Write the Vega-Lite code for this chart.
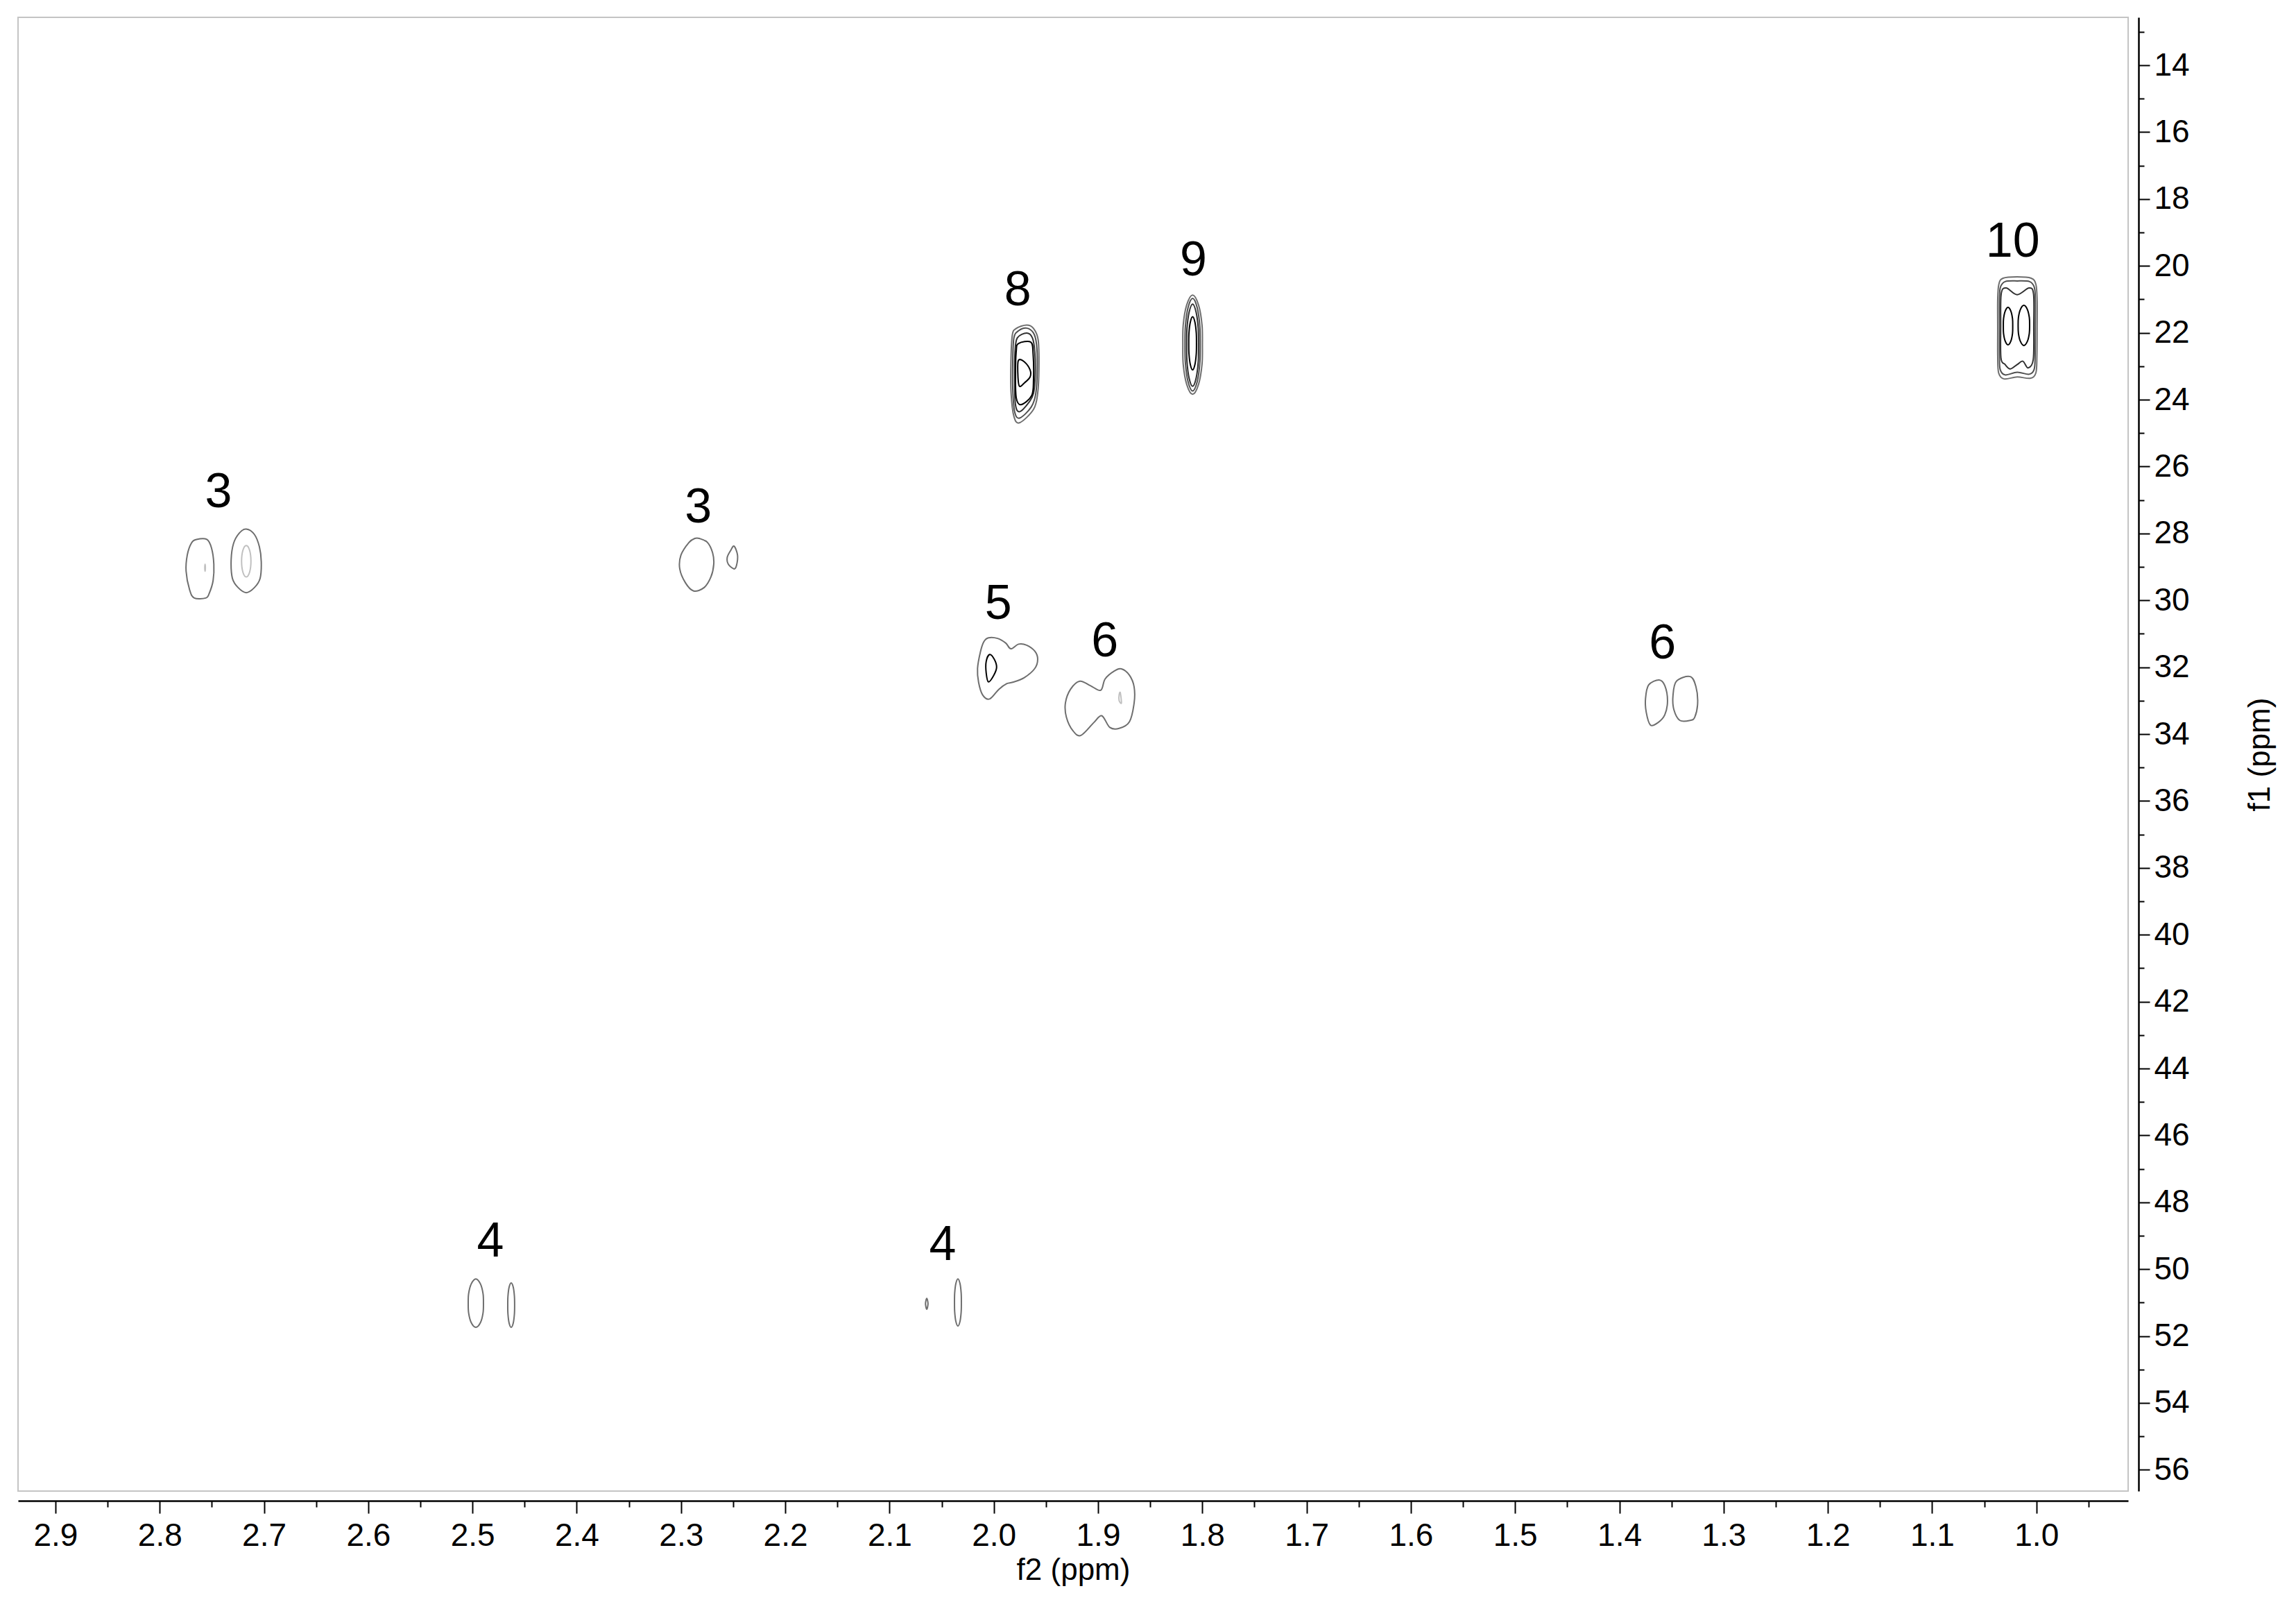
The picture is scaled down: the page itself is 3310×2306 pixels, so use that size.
{
"$schema": "https://vega.github.io/schema/vega-lite/v6.json",
"width": 3042, "height": 2124,
"autosize": {"type": "none"},
"padding": {"left": 26, "top": 25, "right": 242, "bottom": 157},
"background": "white",
"config": {"view": {"stroke": "#c4c4c4", "strokeWidth": 2}},
"datasets": {
"contours": [
{"c":"3a","i":1,"f2":2.7647,"f1":28.18,"lv":"g1"},{"c":"3a","i":2,"f2":2.7548,"f1":28.18,"lv":"g1"},{"c":"3a","i":3,"f2":2.7503,"f1":28.44,"lv":"g1"},{"c":"3a","i":4,"f2":2.7481,"f1":28.92,"lv":"g1"},{"c":"3a","i":5,"f2":2.7488,"f1":29.41,"lv":"g1"},{"c":"3a","i":6,"f2":2.7525,"f1":29.79,"lv":"g1"},{"c":"3a","i":7,"f2":2.7558,"f1":29.93,"lv":"g1"},{"c":"3a","i":8,"f2":2.7669,"f1":29.93,"lv":"g1"},{"c":"3a","i":9,"f2":2.7714,"f1":29.68,"lv":"g1"},{"c":"3a","i":10,"f2":2.7747,"f1":29.13,"lv":"g1"},{"c":"3a","i":11,"f2":2.7736,"f1":28.65,"lv":"g1"},{"c":"3a","i":12,"f2":2.7696,"f1":28.29,"lv":"g1"},
{"c":"3a2","i":1,"f2":2.7565,"f1":28.92,"lv":"lt"},{"c":"3a2","i":2,"f2":2.7562,"f1":29.02,"lv":"lt"},{"c":"3a2","i":3,"f2":2.7565,"f1":29.13,"lv":"lt"},{"c":"3a2","i":4,"f2":2.7568,"f1":29.02,"lv":"lt"},
{"c":"3b","i":1,"f2":2.7170,"f1":27.87,"lv":"g1"},{"c":"3b","i":2,"f2":2.7092,"f1":28.03,"lv":"g1"},{"c":"3b","i":3,"f2":2.7044,"f1":28.40,"lv":"g1"},{"c":"3b","i":4,"f2":2.7026,"f1":28.85,"lv":"g1"},{"c":"3b","i":5,"f2":2.7037,"f1":29.34,"lv":"g1"},{"c":"3b","i":6,"f2":2.7092,"f1":29.62,"lv":"g1"},{"c":"3b","i":7,"f2":2.7170,"f1":29.77,"lv":"g1"},{"c":"3b","i":8,"f2":2.7248,"f1":29.62,"lv":"g1"},{"c":"3b","i":9,"f2":2.7303,"f1":29.34,"lv":"g1"},{"c":"3b","i":10,"f2":2.7315,"f1":28.79,"lv":"g1"},{"c":"3b","i":11,"f2":2.7292,"f1":28.30,"lv":"g1"},{"c":"3b","i":12,"f2":2.7237,"f1":27.99,"lv":"g1"},
{"c":"3b2","i":1,"f2":2.7170,"f1":28.36,"lv":"lt"},{"c":"3b2","i":2,"f2":2.7138,"f1":28.50,"lv":"lt"},{"c":"3b2","i":3,"f2":2.7125,"f1":28.83,"lv":"lt"},{"c":"3b2","i":4,"f2":2.7138,"f1":29.16,"lv":"lt"},{"c":"3b2","i":5,"f2":2.7170,"f1":29.30,"lv":"lt"},{"c":"3b2","i":6,"f2":2.7202,"f1":29.16,"lv":"lt"},{"c":"3b2","i":7,"f2":2.7215,"f1":28.83,"lv":"lt"},{"c":"3b2","i":8,"f2":2.7202,"f1":28.50,"lv":"lt"},
{"c":"3c","i":1,"f2":2.2824,"f1":28.15,"lv":"g1"},{"c":"3c","i":2,"f2":2.2746,"f1":28.27,"lv":"g1"},{"c":"3c","i":3,"f2":2.2697,"f1":28.58,"lv":"g1"},{"c":"3c","i":4,"f2":2.2686,"f1":28.92,"lv":"g1"},{"c":"3c","i":5,"f2":2.2713,"f1":29.30,"lv":"g1"},{"c":"3c","i":6,"f2":2.2779,"f1":29.62,"lv":"g1"},{"c":"3c","i":7,"f2":2.2879,"f1":29.72,"lv":"g1"},{"c":"3c","i":8,"f2":2.2957,"f1":29.48,"lv":"g1"},{"c":"3c","i":9,"f2":2.3012,"f1":29.06,"lv":"g1"},{"c":"3c","i":10,"f2":2.3001,"f1":28.65,"lv":"g1"},{"c":"3c","i":11,"f2":2.2924,"f1":28.27,"lv":"g1"},{"c":"3c","i":12,"f2":2.2868,"f1":28.15,"lv":"g1"},
{"c":"3d","i":1,"f2":2.2491,"f1":28.38,"lv":"g1"},{"c":"3d","i":2,"f2":2.2458,"f1":28.65,"lv":"g1"},{"c":"3d","i":3,"f2":2.2468,"f1":28.96,"lv":"g1"},{"c":"3d","i":4,"f2":2.2491,"f1":29.06,"lv":"g1"},{"c":"3d","i":5,"f2":2.2546,"f1":28.92,"lv":"g1"},{"c":"3d","i":6,"f2":2.2557,"f1":28.72,"lv":"g1"},{"c":"3d","i":7,"f2":2.2524,"f1":28.51,"lv":"g1"},
{"c":"8a","i":1,"f2":1.9685,"f1":21.77,"lv":"g1"},{"c":"8a","i":2,"f2":1.9619,"f1":21.87,"lv":"g1"},{"c":"8a","i":3,"f2":1.9574,"f1":22.22,"lv":"g1"},{"c":"8a","i":4,"f2":1.9567,"f1":23.05,"lv":"g1"},{"c":"8a","i":5,"f2":1.9579,"f1":23.81,"lv":"g1"},{"c":"8a","i":6,"f2":1.9619,"f1":24.29,"lv":"g1"},{"c":"8a","i":7,"f2":1.9752,"f1":24.69,"lv":"g1"},{"c":"8a","i":8,"f2":1.9807,"f1":24.50,"lv":"g1"},{"c":"8a","i":9,"f2":1.9834,"f1":23.81,"lv":"g1"},{"c":"8a","i":10,"f2":1.9836,"f1":22.91,"lv":"g1"},{"c":"8a","i":11,"f2":1.9823,"f1":22.08,"lv":"g1"},{"c":"8a","i":12,"f2":1.9785,"f1":21.87,"lv":"g1"},
{"c":"8b","i":1,"f2":1.9685,"f1":21.86,"lv":"g2"},{"c":"8b","i":2,"f2":1.9619,"f1":22.01,"lv":"g2"},{"c":"8b","i":3,"f2":1.9590,"f1":22.35,"lv":"g2"},{"c":"8b","i":4,"f2":1.9583,"f1":23.05,"lv":"g2"},{"c":"8b","i":5,"f2":1.9597,"f1":23.81,"lv":"g2"},{"c":"8b","i":6,"f2":1.9641,"f1":24.22,"lv":"g2"},{"c":"8b","i":7,"f2":1.9752,"f1":24.55,"lv":"g2"},{"c":"8b","i":8,"f2":1.9800,"f1":24.36,"lv":"g2"},{"c":"8b","i":9,"f2":1.9818,"f1":23.67,"lv":"g2"},{"c":"8b","i":10,"f2":1.9818,"f1":22.84,"lv":"g2"},{"c":"8b","i":11,"f2":1.9807,"f1":22.15,"lv":"g2"},{"c":"8b","i":12,"f2":1.9763,"f1":21.94,"lv":"g2"},
{"c":"8c","i":1,"f2":1.9685,"f1":22.01,"lv":"g3"},{"c":"8c","i":2,"f2":1.9630,"f1":22.15,"lv":"g3"},{"c":"8c","i":3,"f2":1.9607,"f1":22.56,"lv":"g3"},{"c":"8c","i":4,"f2":1.9603,"f1":23.25,"lv":"g3"},{"c":"8c","i":5,"f2":1.9619,"f1":23.81,"lv":"g3"},{"c":"8c","i":6,"f2":1.9663,"f1":24.08,"lv":"g3"},{"c":"8c","i":7,"f2":1.9752,"f1":24.36,"lv":"g3"},{"c":"8c","i":8,"f2":1.9792,"f1":24.15,"lv":"g3"},{"c":"8c","i":9,"f2":1.9800,"f1":23.39,"lv":"g3"},{"c":"8c","i":10,"f2":1.9796,"f1":22.56,"lv":"g3"},{"c":"8c","i":11,"f2":1.9774,"f1":22.15,"lv":"g3"},
{"c":"8d","i":1,"f2":1.9763,"f1":22.32,"lv":"k"},{"c":"8d","i":2,"f2":1.9645,"f1":22.28,"lv":"k"},{"c":"8d","i":3,"f2":1.9623,"f1":22.63,"lv":"k"},{"c":"8d","i":4,"f2":1.9619,"f1":23.39,"lv":"k"},{"c":"8d","i":5,"f2":1.9637,"f1":23.88,"lv":"k"},{"c":"8d","i":6,"f2":1.9741,"f1":24.15,"lv":"k"},{"c":"8d","i":7,"f2":1.9785,"f1":23.94,"lv":"k"},{"c":"8d","i":8,"f2":1.9792,"f1":23.25,"lv":"k"},{"c":"8d","i":9,"f2":1.9785,"f1":22.56,"lv":"k"},
{"c":"8e","i":1,"f2":1.9763,"f1":22.82,"lv":"k"},{"c":"8e","i":2,"f2":1.9707,"f1":22.87,"lv":"k"},{"c":"8e","i":3,"f2":1.9652,"f1":23.11,"lv":"k"},{"c":"8e","i":4,"f2":1.9652,"f1":23.32,"lv":"k"},{"c":"8e","i":5,"f2":1.9707,"f1":23.50,"lv":"k"},{"c":"8e","i":6,"f2":1.9756,"f1":23.59,"lv":"k"},{"c":"8e","i":7,"f2":1.9770,"f1":23.18,"lv":"k"},
{"c":"9a","i":1,"f2":1.8093,"f1":20.87,"lv":"g1"},{"c":"9a","i":2,"f2":1.8036,"f1":21.17,"lv":"g1"},{"c":"9a","i":3,"f2":1.8003,"f1":21.76,"lv":"g1"},{"c":"9a","i":4,"f2":1.7999,"f1":22.36,"lv":"g1"},{"c":"9a","i":5,"f2":1.8003,"f1":22.95,"lv":"g1"},{"c":"9a","i":6,"f2":1.8036,"f1":23.54,"lv":"g1"},{"c":"9a","i":7,"f2":1.8093,"f1":23.84,"lv":"g1"},{"c":"9a","i":8,"f2":1.8150,"f1":23.54,"lv":"g1"},{"c":"9a","i":9,"f2":1.8183,"f1":22.95,"lv":"g1"},{"c":"9a","i":10,"f2":1.8187,"f1":22.36,"lv":"g1"},{"c":"9a","i":11,"f2":1.8183,"f1":21.76,"lv":"g1"},{"c":"9a","i":12,"f2":1.8150,"f1":21.17,"lv":"g1"},
{"c":"9b","i":1,"f2":1.8093,"f1":20.97,"lv":"g2"},{"c":"9b","i":2,"f2":1.8049,"f1":21.25,"lv":"g2"},{"c":"9b","i":3,"f2":1.8024,"f1":21.80,"lv":"g2"},{"c":"9b","i":4,"f2":1.8020,"f1":22.36,"lv":"g2"},{"c":"9b","i":5,"f2":1.8024,"f1":22.91,"lv":"g2"},{"c":"9b","i":6,"f2":1.8049,"f1":23.46,"lv":"g2"},{"c":"9b","i":7,"f2":1.8093,"f1":23.74,"lv":"g2"},{"c":"9b","i":8,"f2":1.8137,"f1":23.46,"lv":"g2"},{"c":"9b","i":9,"f2":1.8162,"f1":22.91,"lv":"g2"},{"c":"9b","i":10,"f2":1.8166,"f1":22.36,"lv":"g2"},{"c":"9b","i":11,"f2":1.8162,"f1":21.80,"lv":"g2"},{"c":"9b","i":12,"f2":1.8137,"f1":21.25,"lv":"g2"},
{"c":"9c","i":1,"f2":1.8093,"f1":21.14,"lv":"g3"},{"c":"9c","i":2,"f2":1.8059,"f1":21.39,"lv":"g3"},{"c":"9c","i":3,"f2":1.8039,"f1":21.88,"lv":"g3"},{"c":"9c","i":4,"f2":1.8036,"f1":22.37,"lv":"g3"},{"c":"9c","i":5,"f2":1.8039,"f1":22.86,"lv":"g3"},{"c":"9c","i":6,"f2":1.8059,"f1":23.35,"lv":"g3"},{"c":"9c","i":7,"f2":1.8093,"f1":23.60,"lv":"g3"},{"c":"9c","i":8,"f2":1.8127,"f1":23.35,"lv":"g3"},{"c":"9c","i":9,"f2":1.8147,"f1":22.86,"lv":"g3"},{"c":"9c","i":10,"f2":1.8150,"f1":22.37,"lv":"g3"},{"c":"9c","i":11,"f2":1.8147,"f1":21.88,"lv":"g3"},{"c":"9c","i":12,"f2":1.8127,"f1":21.39,"lv":"g3"},
{"c":"9d","i":1,"f2":1.8093,"f1":21.52,"lv":"k"},{"c":"9d","i":2,"f2":1.8071,"f1":21.68,"lv":"k"},{"c":"9d","i":3,"f2":1.8058,"f1":22.00,"lv":"k"},{"c":"9d","i":4,"f2":1.8056,"f1":22.32,"lv":"k"},{"c":"9d","i":5,"f2":1.8058,"f1":22.63,"lv":"k"},{"c":"9d","i":6,"f2":1.8071,"f1":22.95,"lv":"k"},{"c":"9d","i":7,"f2":1.8093,"f1":23.11,"lv":"k"},{"c":"9d","i":8,"f2":1.8115,"f1":22.95,"lv":"k"},{"c":"9d","i":9,"f2":1.8128,"f1":22.63,"lv":"k"},{"c":"9d","i":10,"f2":1.8130,"f1":22.32,"lv":"k"},{"c":"9d","i":11,"f2":1.8128,"f1":22.00,"lv":"k"},{"c":"9d","i":12,"f2":1.8115,"f1":21.68,"lv":"k"},
{"c":"10a","i":1,"f2":1.0320,"f1":20.37,"lv":"g1"},{"c":"10a","i":2,"f2":1.0184,"f1":20.33,"lv":"g1"},{"c":"10a","i":3,"f2":1.0050,"f1":20.37,"lv":"g1"},{"c":"10a","i":4,"f2":1.0005,"f1":20.55,"lv":"g1"},{"c":"10a","i":5,"f2":0.9993,"f1":21.00,"lv":"g1"},{"c":"10a","i":6,"f2":0.9993,"f1":21.85,"lv":"g1"},{"c":"10a","i":7,"f2":0.9995,"f1":22.70,"lv":"g1"},{"c":"10a","i":8,"f2":1.0005,"f1":23.20,"lv":"g1"},{"c":"10a","i":9,"f2":1.0060,"f1":23.36,"lv":"g1"},{"c":"10a","i":10,"f2":1.0184,"f1":23.32,"lv":"g1"},{"c":"10a","i":11,"f2":1.0310,"f1":23.38,"lv":"g1"},{"c":"10a","i":12,"f2":1.0362,"f1":23.20,"lv":"g1"},{"c":"10a","i":13,"f2":1.0371,"f1":22.70,"lv":"g1"},{"c":"10a","i":14,"f2":1.0371,"f1":21.85,"lv":"g1"},{"c":"10a","i":15,"f2":1.0371,"f1":21.00,"lv":"g1"},{"c":"10a","i":16,"f2":1.0360,"f1":20.55,"lv":"g1"},
{"c":"10b","i":1,"f2":1.0300,"f1":20.47,"lv":"g2"},{"c":"10b","i":2,"f2":1.0184,"f1":20.45,"lv":"g2"},{"c":"10b","i":3,"f2":1.0065,"f1":20.47,"lv":"g2"},{"c":"10b","i":4,"f2":1.0020,"f1":20.64,"lv":"g2"},{"c":"10b","i":5,"f2":1.0010,"f1":21.00,"lv":"g2"},{"c":"10b","i":6,"f2":1.0010,"f1":21.85,"lv":"g2"},{"c":"10b","i":7,"f2":1.0012,"f1":22.70,"lv":"g2"},{"c":"10b","i":8,"f2":1.0022,"f1":23.10,"lv":"g2"},{"c":"10b","i":9,"f2":1.0070,"f1":23.24,"lv":"g2"},{"c":"10b","i":10,"f2":1.0184,"f1":23.18,"lv":"g2"},{"c":"10b","i":11,"f2":1.0300,"f1":23.26,"lv":"g2"},{"c":"10b","i":12,"f2":1.0347,"f1":23.10,"lv":"g2"},{"c":"10b","i":13,"f2":1.0354,"f1":22.70,"lv":"g2"},{"c":"10b","i":14,"f2":1.0354,"f1":21.85,"lv":"g2"},{"c":"10b","i":15,"f2":1.0354,"f1":21.00,"lv":"g2"},{"c":"10b","i":16,"f2":1.0345,"f1":20.64,"lv":"g2"},
{"c":"10c","i":1,"f2":1.0290,"f1":20.66,"lv":"g3"},{"c":"10c","i":2,"f2":1.0184,"f1":20.86,"lv":"g3"},{"c":"10c","i":3,"f2":1.0070,"f1":20.66,"lv":"g3"},{"c":"10c","i":4,"f2":1.0027,"f1":20.85,"lv":"g3"},{"c":"10c","i":5,"f2":1.0025,"f1":21.80,"lv":"g3"},{"c":"10c","i":6,"f2":1.0030,"f1":22.80,"lv":"g3"},{"c":"10c","i":7,"f2":1.0080,"f1":23.05,"lv":"g3"},{"c":"10c","i":8,"f2":1.0130,"f1":22.85,"lv":"g3"},{"c":"10c","i":9,"f2":1.0184,"f1":22.95,"lv":"g3"},{"c":"10c","i":10,"f2":1.0250,"f1":23.08,"lv":"g3"},{"c":"10c","i":11,"f2":1.0300,"f1":22.95,"lv":"g3"},{"c":"10c","i":12,"f2":1.0340,"f1":22.75,"lv":"g3"},{"c":"10c","i":13,"f2":1.0342,"f1":21.80,"lv":"g3"},{"c":"10c","i":14,"f2":1.0338,"f1":20.85,"lv":"g3"},
{"c":"10d","i":1,"f2":1.0272,"f1":21.24,"lv":"k"},{"c":"10d","i":2,"f2":1.0245,"f1":21.35,"lv":"k"},{"c":"10d","i":3,"f2":1.0229,"f1":21.58,"lv":"k"},{"c":"10d","i":4,"f2":1.0227,"f1":21.80,"lv":"k"},{"c":"10d","i":5,"f2":1.0229,"f1":22.02,"lv":"k"},{"c":"10d","i":6,"f2":1.0245,"f1":22.25,"lv":"k"},{"c":"10d","i":7,"f2":1.0272,"f1":22.36,"lv":"k"},{"c":"10d","i":8,"f2":1.0299,"f1":22.25,"lv":"k"},{"c":"10d","i":9,"f2":1.0315,"f1":22.02,"lv":"k"},{"c":"10d","i":10,"f2":1.0317,"f1":21.80,"lv":"k"},{"c":"10d","i":11,"f2":1.0315,"f1":21.58,"lv":"k"},{"c":"10d","i":12,"f2":1.0299,"f1":21.35,"lv":"k"},
{"c":"10e","i":1,"f2":1.0120,"f1":21.18,"lv":"k"},{"c":"10e","i":2,"f2":1.0087,"f1":21.30,"lv":"k"},{"c":"10e","i":3,"f2":1.0068,"f1":21.54,"lv":"k"},{"c":"10e","i":4,"f2":1.0065,"f1":21.78,"lv":"k"},{"c":"10e","i":5,"f2":1.0068,"f1":22.02,"lv":"k"},{"c":"10e","i":6,"f2":1.0087,"f1":22.26,"lv":"k"},{"c":"10e","i":7,"f2":1.0120,"f1":22.38,"lv":"k"},{"c":"10e","i":8,"f2":1.0153,"f1":22.26,"lv":"k"},{"c":"10e","i":9,"f2":1.0172,"f1":22.02,"lv":"k"},{"c":"10e","i":10,"f2":1.0175,"f1":21.78,"lv":"k"},{"c":"10e","i":11,"f2":1.0172,"f1":21.54,"lv":"k"},{"c":"10e","i":12,"f2":1.0153,"f1":21.30,"lv":"k"},
{"c":"5a","i":1,"f2":2.0051,"f1":31.12,"lv":"g1"},{"c":"5a","i":2,"f2":1.9963,"f1":31.14,"lv":"g1"},{"c":"5a","i":3,"f2":1.9885,"f1":31.28,"lv":"g1"},{"c":"5a","i":4,"f2":1.9836,"f1":31.45,"lv":"g1"},{"c":"5a","i":5,"f2":1.9763,"f1":31.31,"lv":"g1"},{"c":"5a","i":6,"f2":1.9685,"f1":31.34,"lv":"g1"},{"c":"5a","i":7,"f2":1.9607,"f1":31.52,"lv":"g1"},{"c":"5a","i":8,"f2":1.9579,"f1":31.76,"lv":"g1"},{"c":"5a","i":9,"f2":1.9607,"f1":32.04,"lv":"g1"},{"c":"5a","i":10,"f2":1.9707,"f1":32.31,"lv":"g1"},{"c":"5a","i":11,"f2":1.9818,"f1":32.45,"lv":"g1"},{"c":"5a","i":12,"f2":1.9874,"f1":32.49,"lv":"g1"},{"c":"5a","i":13,"f2":1.9951,"f1":32.66,"lv":"g1"},{"c":"5a","i":14,"f2":2.0040,"f1":32.95,"lv":"g1"},{"c":"5a","i":15,"f2":2.0107,"f1":32.83,"lv":"g1"},{"c":"5a","i":16,"f2":2.0146,"f1":32.45,"lv":"g1"},{"c":"5a","i":17,"f2":2.0156,"f1":32.04,"lv":"g1"},{"c":"5a","i":18,"f2":2.0129,"f1":31.55,"lv":"g1"},{"c":"5a","i":19,"f2":2.0096,"f1":31.24,"lv":"g1"},
{"c":"5b","i":1,"f2":2.0040,"f1":31.62,"lv":"k"},{"c":"5b","i":2,"f2":1.9996,"f1":31.76,"lv":"k"},{"c":"5b","i":3,"f2":1.9973,"f1":32.00,"lv":"k"},{"c":"5b","i":4,"f2":2.0000,"f1":32.24,"lv":"k"},{"c":"5b","i":5,"f2":2.0051,"f1":32.44,"lv":"k"},{"c":"5b","i":6,"f2":2.0073,"f1":32.17,"lv":"k"},{"c":"5b","i":7,"f2":2.0073,"f1":31.83,"lv":"k"},
{"c":"6a","i":1,"f2":1.9175,"f1":32.42,"lv":"g1"},{"c":"6a","i":2,"f2":1.9075,"f1":32.55,"lv":"g1"},{"c":"6a","i":3,"f2":1.8975,"f1":32.69,"lv":"g1"},{"c":"6a","i":4,"f2":1.8932,"f1":32.35,"lv":"g1"},{"c":"6a","i":5,"f2":1.8842,"f1":32.11,"lv":"g1"},{"c":"6a","i":6,"f2":1.8776,"f1":32.05,"lv":"g1"},{"c":"6a","i":7,"f2":1.8699,"f1":32.24,"lv":"g1"},{"c":"6a","i":8,"f2":1.8654,"f1":32.59,"lv":"g1"},{"c":"6a","i":9,"f2":1.8654,"f1":33.07,"lv":"g1"},{"c":"6a","i":10,"f2":1.8699,"f1":33.63,"lv":"g1"},{"c":"6a","i":11,"f2":1.8798,"f1":33.83,"lv":"g1"},{"c":"6a","i":12,"f2":1.8887,"f1":33.80,"lv":"g1"},{"c":"6a","i":13,"f2":1.8965,"f1":33.45,"lv":"g1"},{"c":"6a","i":14,"f2":1.9042,"f1":33.66,"lv":"g1"},{"c":"6a","i":15,"f2":1.9164,"f1":34.04,"lv":"g1"},{"c":"6a","i":16,"f2":1.9241,"f1":33.90,"lv":"g1"},{"c":"6a","i":17,"f2":1.9304,"f1":33.49,"lv":"g1"},{"c":"6a","i":18,"f2":1.9313,"f1":33.07,"lv":"g1"},{"c":"6a","i":19,"f2":1.9264,"f1":32.66,"lv":"g1"},
{"c":"6b","i":1,"f2":1.8787,"f1":32.76,"lv":"lt"},{"c":"6b","i":2,"f2":1.8776,"f1":33.07,"lv":"lt"},{"c":"6b","i":3,"f2":1.8798,"f1":33.00,"lv":"lt"},{"c":"6b","i":4,"f2":1.8798,"f1":32.83,"lv":"lt"},
{"c":"6c","i":1,"f2":1.3719,"f1":32.53,"lv":"g1"},{"c":"6c","i":2,"f2":1.3619,"f1":32.38,"lv":"g1"},{"c":"6c","i":3,"f2":1.3564,"f1":32.55,"lv":"g1"},{"c":"6c","i":4,"f2":1.3538,"f1":33.00,"lv":"g1"},{"c":"6c","i":5,"f2":1.3564,"f1":33.42,"lv":"g1"},{"c":"6c","i":6,"f2":1.3631,"f1":33.66,"lv":"g1"},{"c":"6c","i":7,"f2":1.3702,"f1":33.73,"lv":"g1"},{"c":"6c","i":8,"f2":1.3742,"f1":33.35,"lv":"g1"},{"c":"6c","i":9,"f2":1.3749,"f1":32.94,"lv":"g1"},
{"c":"6d","i":1,"f2":1.3453,"f1":32.42,"lv":"g1"},{"c":"6d","i":2,"f2":1.3320,"f1":32.28,"lv":"g1"},{"c":"6d","i":3,"f2":1.3265,"f1":32.59,"lv":"g1"},{"c":"6d","i":4,"f2":1.3249,"f1":33.07,"lv":"g1"},{"c":"6d","i":5,"f2":1.3276,"f1":33.49,"lv":"g1"},{"c":"6d","i":6,"f2":1.3320,"f1":33.59,"lv":"g1"},{"c":"6d","i":7,"f2":1.3420,"f1":33.59,"lv":"g1"},{"c":"6d","i":8,"f2":1.3476,"f1":33.28,"lv":"g1"},{"c":"6d","i":9,"f2":1.3486,"f1":32.87,"lv":"g1"},
{"c":"4a","i":1,"f2":2.4968,"f1":50.29,"lv":"g1"},{"c":"4a","i":2,"f2":2.4924,"f1":50.44,"lv":"g1"},{"c":"4a","i":3,"f2":2.4899,"f1":50.73,"lv":"g1"},{"c":"4a","i":4,"f2":2.4895,"f1":51.02,"lv":"g1"},{"c":"4a","i":5,"f2":2.4899,"f1":51.31,"lv":"g1"},{"c":"4a","i":6,"f2":2.4924,"f1":51.60,"lv":"g1"},{"c":"4a","i":7,"f2":2.4968,"f1":51.74,"lv":"g1"},{"c":"4a","i":8,"f2":2.5012,"f1":51.60,"lv":"g1"},{"c":"4a","i":9,"f2":2.5037,"f1":51.31,"lv":"g1"},{"c":"4a","i":10,"f2":2.5041,"f1":51.02,"lv":"g1"},{"c":"4a","i":11,"f2":2.5037,"f1":50.73,"lv":"g1"},{"c":"4a","i":12,"f2":2.5012,"f1":50.44,"lv":"g1"},
{"c":"4b","i":1,"f2":2.4629,"f1":50.41,"lv":"g1"},{"c":"4b","i":2,"f2":2.4609,"f1":50.54,"lv":"g1"},{"c":"4b","i":3,"f2":2.4598,"f1":50.81,"lv":"g1"},{"c":"4b","i":4,"f2":2.4596,"f1":51.08,"lv":"g1"},{"c":"4b","i":5,"f2":2.4598,"f1":51.34,"lv":"g1"},{"c":"4b","i":6,"f2":2.4609,"f1":51.61,"lv":"g1"},{"c":"4b","i":7,"f2":2.4629,"f1":51.74,"lv":"g1"},{"c":"4b","i":8,"f2":2.4649,"f1":51.61,"lv":"g1"},{"c":"4b","i":9,"f2":2.4660,"f1":51.34,"lv":"g1"},{"c":"4b","i":10,"f2":2.4662,"f1":51.08,"lv":"g1"},{"c":"4b","i":11,"f2":2.4660,"f1":50.81,"lv":"g1"},{"c":"4b","i":12,"f2":2.4649,"f1":50.54,"lv":"g1"},
{"c":"4c","i":1,"f2":2.0643,"f1":50.87,"lv":"g1"},{"c":"4c","i":2,"f2":2.0631,"f1":51.035,"lv":"g1"},{"c":"4c","i":3,"f2":2.0643,"f1":51.20,"lv":"g1"},{"c":"4c","i":4,"f2":2.0655,"f1":51.035,"lv":"g1"},
{"c":"4d","i":1,"f2":2.0344,"f1":50.29,"lv":"g1"},{"c":"4d","i":2,"f2":2.0324,"f1":50.43,"lv":"g1"},{"c":"4d","i":3,"f2":2.0313,"f1":50.71,"lv":"g1"},{"c":"4d","i":4,"f2":2.0311,"f1":51.00,"lv":"g1"},{"c":"4d","i":5,"f2":2.0313,"f1":51.28,"lv":"g1"},{"c":"4d","i":6,"f2":2.0324,"f1":51.56,"lv":"g1"},{"c":"4d","i":7,"f2":2.0344,"f1":51.70,"lv":"g1"},{"c":"4d","i":8,"f2":2.0364,"f1":51.56,"lv":"g1"},{"c":"4d","i":9,"f2":2.0375,"f1":51.28,"lv":"g1"},{"c":"4d","i":10,"f2":2.0377,"f1":51.00,"lv":"g1"},{"c":"4d","i":11,"f2":2.0375,"f1":50.71,"lv":"g1"},{"c":"4d","i":12,"f2":2.0364,"f1":50.43,"lv":"g1"}
],
"labels": [
{"t":"3","f2":2.7436,"f1":26.78},
{"t":"3","f2":2.2834,"f1":27.23},
{"t":"8","f2":1.9770,"f1":20.75},
{"t":"9","f2":1.8085,"f1":19.85},
{"t":"10","f2":1.0226,"f1":19.28},
{"t":"5","f2":1.9956,"f1":30.13},
{"t":"6","f2":1.8935,"f1":31.24},
{"t":"6","f2":1.3586,"f1":31.31},
{"t":"4","f2":2.4828,"f1":49.19},
{"t":"4","f2":2.0490,"f1":49.29}
]
},
"encoding": {
"x": {"field": "f2", "type": "quantitative",
  "scale": {"domain": [0.912, 2.9359], "reverse": true, "nice": false, "zero": false},
  "axis": {"orient": "bottom", "offset": 14, "grid": false,
    "values": [2.9,2.85,2.8,2.75,2.7,2.65,2.6,2.55,2.5,2.45,2.4,2.35,2.3,2.25,2.2,2.15,2.1,2.05,2.0,1.95,1.9,1.85,1.8,1.75,1.7,1.65,1.6,1.55,1.5,1.45,1.4,1.35,1.3,1.25,1.2,1.15,1.1,1.05,1.0,0.95],
    "domainColor": "black", "domainWidth": 2.5, "tickColor": "black", "tickWidth": 2,
    "tickSize": {"condition": {"test": "abs(datum.value*10 - round(datum.value*10)) < 0.01", "value": 18}, "value": 9},
    "labelExpr": "abs(datum.value*10 - round(datum.value*10)) < 0.01 ? format(datum.value, '.1f') : ''",
    "labelFont": "Liberation Sans", "labelFontSize": 46, "labelColor": "black", "labelPadding": 10, "labelOverlap": false, "labelFlush": false,
    "title": "f2 (ppm)", "titleFont": "Liberation Sans", "titleFontSize": 44, "titleFontWeight": "normal", "titleColor": "black", "titlePadding": 5}},
"y": {"field": "f1", "type": "quantitative",
  "scale": {"domain": [12.568, 56.635], "reverse": true, "nice": false, "zero": false},
  "axis": {"orient": "right", "offset": 15, "grid": false,
    "values": [13,14,15,16,17,18,19,20,21,22,23,24,25,26,27,28,29,30,31,32,33,34,35,36,37,38,39,40,41,42,43,44,45,46,47,48,49,50,51,52,53,54,55,56],
    "domainColor": "black", "domainWidth": 2.5, "tickColor": "black", "tickWidth": 2,
    "tickSize": {"condition": {"test": "datum.value % 2 == 0", "value": 16}, "value": 8},
    "labelExpr": "datum.value % 2 == 0 ? format(datum.value, 'd') : ''",
    "labelFont": "Liberation Sans", "labelFontSize": 46, "labelColor": "black", "labelPadding": 6, "labelOverlap": false, "labelFlush": false,
    "title": "f1 (ppm)", "titleFont": "Liberation Sans", "titleFontSize": 44, "titleFontWeight": "normal", "titleColor": "black", "titleAngle": 270, "titleBaseline": "top", "titlePadding": 80}}
},
"layer": [
{"data": {"name": "contours"},
 "mark": {"type": "line", "interpolate": "cardinal-closed", "strokeWidth": 2},
 "encoding": {
   "detail": {"field": "c", "type": "nominal"},
   "order": {"field": "i", "type": "quantitative"},
   "color": {"field": "lv", "type": "nominal", "legend": null,
     "scale": {"domain": ["lt","g1","g2","g3","k"], "range": ["#c0c0c0","#6e6e6e","#505050","#303030","#000000"]}}
 }},
{"data": {"name": "labels"},
 "mark": {"type": "text", "font": "Liberation Sans", "fontSize": 70, "color": "black", "baseline": "middle", "align": "center"},
 "encoding": {"text": {"field": "t", "type": "nominal"}}}
]
}
